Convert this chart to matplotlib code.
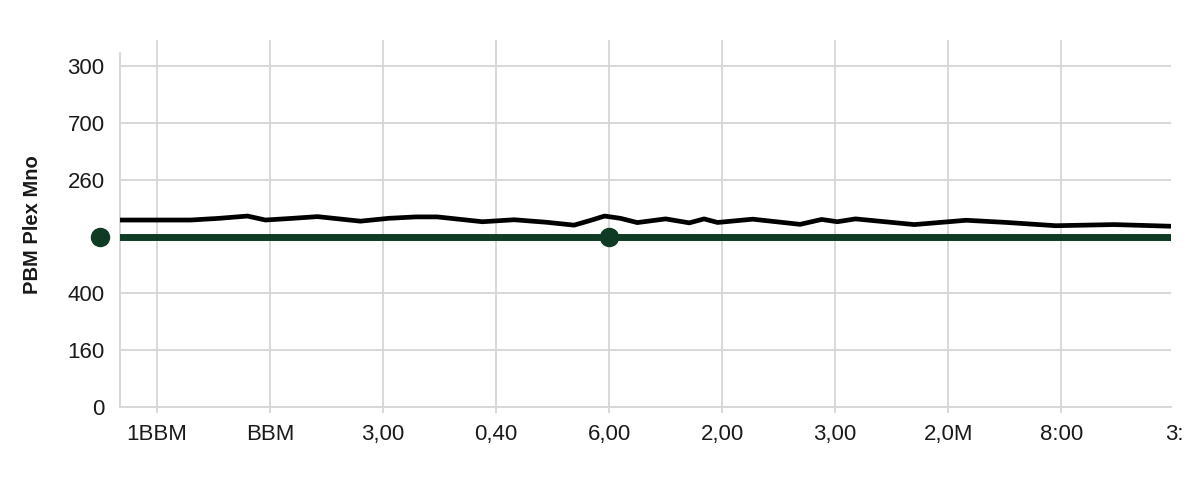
import matplotlib
matplotlib.use("Agg")
import matplotlib.pyplot as plt
import matplotlib.transforms as mtransforms

# tick labels as they appear on the chart
x_labels = ["1BBM", "BBM", "3,00", "0,40", "6,00", "2,00", "3,00", "2,0M", "8:00"]
x_last_label = "3:"
y_labels = ["0", "160", "400", "", "260", "700", "300"]

# black wavy series (x in tick units, y in tick-index units)
wave_x = [-0.33, 0.30, 0.55, 0.80, 0.96, 1.20, 1.42, 1.80, 2.05, 2.29, 2.48, 2.88,
          3.16, 3.45, 3.69, 3.83, 3.96, 4.10, 4.25, 4.50, 4.71, 4.84, 4.96, 5.27,
          5.69, 5.88, 6.02, 6.18, 6.70, 7.16, 7.52, 7.95, 8.47, 8.98]
wave_y = [3.29, 3.29, 3.32, 3.36, 3.29, 3.32, 3.35, 3.27, 3.32, 3.345, 3.345, 3.26,
          3.295, 3.25, 3.20, 3.28, 3.36, 3.32, 3.245, 3.31, 3.24, 3.31, 3.247, 3.305,
          3.214, 3.30, 3.26, 3.31, 3.21, 3.286, 3.247, 3.19, 3.21, 3.18]

# flat green series and its markers
flat_level = 3
marker_x = [-0.50, 4.0]

green = "#0f3b25"
grid_c = "#d6d6d6"

plt.rcParams["font.family"] = ["Liberation Sans", "DejaVu Sans"]

fig = plt.figure(figsize=(12, 4.8), dpi=100)
ax = fig.add_axes([0.1, 0.152, 0.876, 0.765])

ax.plot(wave_x, wave_y, color="black", lw=3.4, solid_joinstyle="round",
        solid_capstyle="butt", zorder=3)
ax.axhline(flat_level, color=green, lw=5, zorder=3)
ax.plot(marker_x, [flat_level] * len(marker_x), "o", color=green, ms=13,
        clip_on=False, zorder=4)

ax.set_xlim(-0.327, 8.973)
ax.set_ylim(0, 6.46)
ax.set_xticks(range(len(x_labels)))
ax.set_xticklabels(x_labels)
ax.set_yticks(range(len(y_labels)))
ax.set_yticklabels(y_labels)

ax.grid(True, color=grid_c, lw=1.3, zorder=0)
ax.set_axisbelow(True)

for s in ["top", "right"]:
    ax.spines[s].set_visible(False)
for s in ["left", "bottom"]:
    ax.spines[s].set_color(grid_c)
    ax.spines[s].set_linewidth(1.3)
ax.spines["left"].set_bounds(0, 6.23)

ax.tick_params(axis="x", length=4, color=grid_c, width=1.3, pad=8,
               labelsize=16, labelcolor="#1a1a1a")
ax.tick_params(axis="y", length=0, pad=11, labelsize=16, labelcolor="#1a1a1a")

# partially visible last label at the right edge
trans = mtransforms.blended_transform_factory(ax.transData, ax.transAxes)
ax.text(9.0, -0.046, x_last_label, transform=trans, ha="center", va="top",
        fontsize=16, color="#1a1a1a", clip_on=False)

ax.set_ylabel("PBM Plex Mno", fontsize=14.5, fontweight="bold", color="#1a1a1a")
ax.yaxis.set_label_coords(-0.074, 0.496)

fig.savefig("out.png", dpi=100, facecolor="white")
